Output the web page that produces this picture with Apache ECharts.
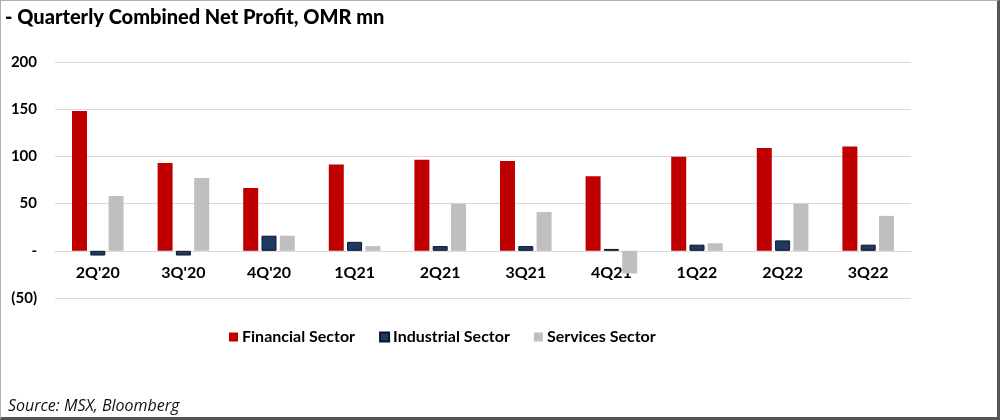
<!DOCTYPE html>
<html>
<head>
<meta charset="utf-8">
<script src="https://cdn.jsdelivr.net/npm/echarts@6/dist/echarts.min.js"></script>
<style>
  html, body { margin: 0; padding: 0; background: #fff; }
  #frame {
    position: relative;
    width: 1000px;
    height: 420px;
    box-sizing: border-box;
    border-top: 1px solid #b0b0b0;
    border-left: 1px solid #b0b0b0;
    border-right: 3px solid #555;
    border-bottom: 3px solid #555;
  }
  #main { position: absolute; left: -1px; top: -1px; width: 1000px; height: 420px; }
</style>
</head>
<body>
<div id="frame"><div id="main"></div></div>
<script>
// 季度
const quarters = ["2Q'20", "3Q'20", "4Q'20", '1Q21', '2Q21', '3Q21', '4Q21', '1Q22', '2Q22', '3Q22'];
// 各行业净利润, OMR mn
const financial = [148, 93, 66.5, 91.5, 96.5, 95, 79, 99.5, 109, 110.5];
const industrial = [-5, -5, 16, 9.5, 5, 5, 2, 6.5, 11, 6.5];
const services = [58, 77, 16, 5, 50, 41, -24, 8, 50, 37];
const yTicks = { min: -50, max: 200, step: 50 };

const font = 'Lato, "Open Sans", sans-serif';
const gridTop = 62, gridBottom = 122, chartH = 420;

// 零线到网格底部的距离, 让分类标签贴着零线
const plotH = chartH - gridTop - gridBottom;
const zeroOffset = -plotH * (0 - yTicks.min) / (yTicks.max - yTicks.min);

const myChart = echarts.init(document.getElementById('main'));
myChart.setOption({
    animation: false,
    textStyle: { fontFamily: font },
    title: [
        {
            text: '- Quarterly Combined Net Profit, OMR mn',
            left: 0, top: 3,
            textStyle: { fontSize: 20, fontWeight: 900, color: '#000', fontFamily: font }
        },
        {
            text: 'Source: MSX, Bloomberg',
            left: 3, top: 393,
            textStyle: { fontSize: 16, fontWeight: 'normal', fontStyle: 'italic', color: '#111', fontFamily: '"Open Sans", sans-serif' }
        }
    ],
    legend: {
        left: 224, top: 324,
        icon: 'rect',
        itemWidth: 9, itemHeight: 9,
        itemGap: 24,
        textStyle: { fontSize: 16, fontWeight: 'bold', color: '#000', padding: [0, 0, 0, -1] },
        data: ['Financial Sector', 'Industrial Sector', 'Services Sector']
    },
    grid: { left: 55, right: 89, top: gridTop, bottom: gridBottom },
    xAxis: {
        type: 'category',
        data: quarters,
        offset: zeroOffset,
        axisLine: { onZero: false, lineStyle: { color: '#d9d9d9' } },
        axisTick: { show: false },
        axisLabel: { margin: 14, fontSize: 16, fontWeight: 'bold', color: '#000' }
    },
    yAxis: {
        type: 'value',
        min: yTicks.min, max: yTicks.max, interval: yTicks.step,
        axisLine: { show: false },
        axisTick: { show: false },
        splitLine: { lineStyle: { color: '#d9d9d9' } },
        axisLabel: {
            margin: 18, fontSize: 15, fontWeight: 'bold', color: '#000',
            formatter: v => v === 0 ? '-' : (v < 0 ? '(' + Math.abs(v) + ')' : String(v))
        }
    },
    series: [
        {
            name: 'Financial Sector', type: 'bar', data: financial,
            barWidth: 15, barGap: '22%',
            itemStyle: { color: '#c00000' }
        },
        {
            name: 'Industrial Sector', type: 'bar', data: industrial,
            barWidth: 15,
            itemStyle: { color: '#1f3864', borderColor: '#0c1628', borderWidth: 1 }
        },
        {
            name: 'Services Sector', type: 'bar', data: services,
            barWidth: 15,
            itemStyle: { color: '#bfbfbf' }
        }
    ]
});
</script>
</body>
</html>
